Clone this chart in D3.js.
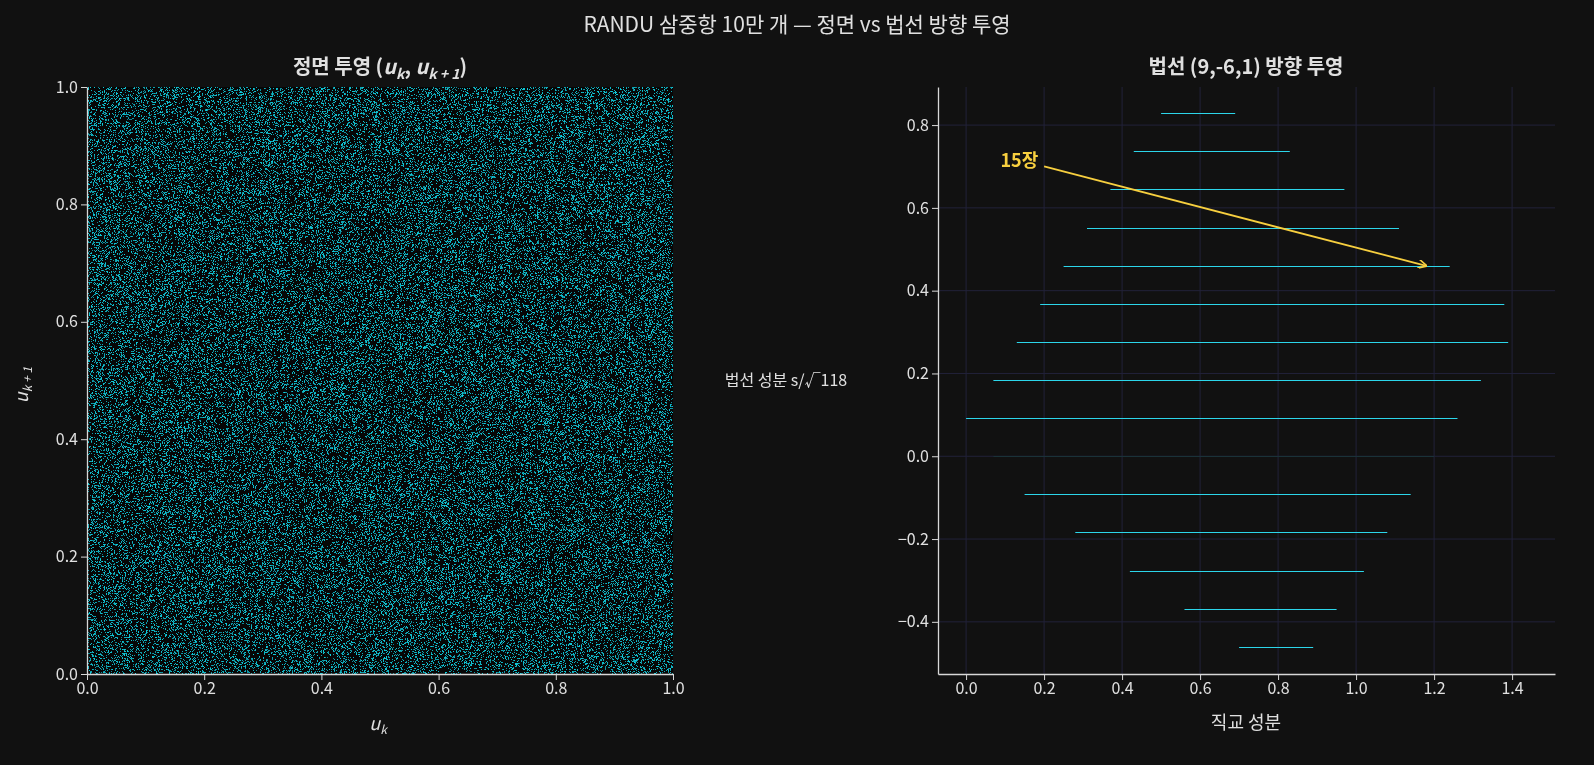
<!DOCTYPE html>
<html><head><meta charset="utf-8">
<script src="https://cdn.jsdelivr.net/npm/d3@7"></script>
<style>
body{margin:0;background:#111111;font-family:"Noto Sans CJK KR","Noto Sans",sans-serif;}
#wrap{position:relative;width:1594px;height:765px;}
canvas,svg{position:absolute;left:0;top:0;}
</style></head>
<body><div id="wrap"><canvas id="cv" width="1594" height="765"></canvas><svg id="sv" width="1594" height="765"></svg></div>
<script>
// RANDU generator: x_{k+1} = 65539 * x_k mod 2^31
var randuSeed = 1;
var randuMult = 65539;
var nPoints = 100000;

// planes seen along normal (9,-6,1): level index s, and in-plane extent of each slab
var planeS    = [-5, -4, -3, -2, -1, 0, 1, 2, 3, 4, 5, 6, 7, 8, 9];
var planeXmin = [0.70, 0.56, 0.42, 0.28, 0.15, 0.07, 0.00, 0.07, 0.13, 0.19, 0.25, 0.31, 0.37, 0.43, 0.50];
var planeXmax = [0.89, 0.95, 1.02, 1.08, 1.14, 1.20, 1.26, 1.32, 1.39, 1.38, 1.24, 1.11, 0.97, 0.83, 0.69];
var ticksLeft = [0, 0.2, 0.4, 0.6, 0.8, 1.0];
var ticksRightX = [0, 0.2, 0.4, 0.6, 0.8, 1.0, 1.2, 1.4];
var ticksRightY = [-0.4, -0.2, 0, 0.2, 0.4, 0.6, 0.8];

function randu(n) {
  var out = [], x = randuSeed;
  for (var i = 0; i < n + 1; i++) {
    x = Number((BigInt(x) * BigInt(randuMult)) % 2147483648n);
    out.push(x / 2147483648);
  }
  return out;
}

var svg = d3.select("#sv");
var ctx = document.getElementById("cv").getContext("2d");
var txt = "#e0e0e0", grid = "#22223a";
var font = "'Noto Sans CJK KR','Noto Sans',sans-serif";

svg.append("text").attr("x", 797).attr("y", 32).attr("text-anchor", "middle")
  .attr("fill", txt).attr("font-size", 21).text("RANDU 삼중항 10만 개 — 정면 vs 법선 방향 투영");

// ---- left panel
var xL = d3.scaleLinear().domain([0, 1]).range([87, 673]);
var yL = d3.scaleLinear().domain([0, 1]).range([674, 87]);
ctx.fillStyle = "#060606";
ctx.fillRect(87, 87, 586, 587);
var u = randu(nPoints);
for (var i = 0; i < nPoints; i++) {
  var c = 120 + ((i * 37) % 80);
  ctx.fillStyle = "rgb(15," + (c + 10) + "," + (c + 25) + ")";
  ctx.fillRect(Math.floor(xL(u[i])), Math.floor(yL(u[i + 1])), 1, 1);
}
var gL = svg.append("g");
gL.append("g").attr("transform", "translate(0,674)")
  .call(d3.axisBottom(xL).tickValues(ticksLeft).tickFormat(d3.format(".1f")).tickSizeOuter(0));
gL.append("g").attr("transform", "translate(87,0)")
  .call(d3.axisLeft(yL).tickValues(ticksLeft).tickFormat(d3.format(".1f")).tickSizeOuter(0));
gL.append("text").attr("x", 380).attr("y", 74).attr("text-anchor", "middle").attr("fill", txt)
  .attr("font-size", 20).attr("font-weight", "bold")
  .html('정면 투영 (<tspan font-style="italic">u</tspan><tspan font-size="14" dy="5" font-style="italic">k</tspan><tspan dy="-5">, </tspan><tspan font-style="italic">u</tspan><tspan font-size="14" dy="5" font-style="italic">k + 1</tspan><tspan dy="-5">)</tspan>');
gL.append("text").attr("x", 378).attr("y", 730).attr("text-anchor", "middle").attr("fill", txt)
  .attr("font-size", 18).html('<tspan font-style="italic">u</tspan><tspan font-size="12" dy="4" font-style="italic">k</tspan>');
gL.append("text").attr("transform", "translate(28,385) rotate(-90)").attr("text-anchor", "middle").attr("fill", txt)
  .attr("font-size", 18).html('<tspan font-style="italic">u</tspan><tspan font-size="12" dy="4" font-style="italic">k + 1</tspan>');

// ---- right panel
var xR = d3.scaleLinear().domain([-0.072, 1.51]).range([938, 1555]);
var yR = d3.scaleLinear().domain([-0.526, 0.892]).range([674, 87]);
var gR = svg.append("g");
gR.selectAll(".gx").data(ticksRightX).enter().append("line")
  .attr("x1", d => xR(d)).attr("x2", d => xR(d)).attr("y1", 87).attr("y2", 674).attr("stroke", grid);
gR.selectAll(".gy").data(ticksRightY).enter().append("line")
  .attr("y1", d => yR(d)).attr("y2", d => yR(d)).attr("x1", 938).attr("x2", 1555).attr("stroke", grid);
var sq = Math.sqrt(118);
gR.selectAll(".pl").data(planeS).enter().append("line")
  .attr("x1", (d, i) => xR(planeXmin[i])).attr("x2", (d, i) => xR(planeXmax[i]))
  .attr("y1", d => Math.round(yR(d / sq)) + 0.5).attr("y2", d => Math.round(yR(d / sq)) + 0.5)
  .attr("stroke", d => d === 0 ? "#1a3238" : "#2cd6ea").attr("stroke-width", 1);
gR.append("g").attr("transform", "translate(0,674)")
  .call(d3.axisBottom(xR).tickValues(ticksRightX).tickFormat(d3.format(".1f")).tickSizeOuter(0));
gR.append("g").attr("transform", "translate(938,0)")
  .call(d3.axisLeft(yR).tickValues(ticksRightY).tickFormat(d3.format(".1f")).tickSizeOuter(0));
gR.append("text").attr("x", 1246).attr("y", 74).attr("text-anchor", "middle").attr("fill", txt)
  .attr("font-size", 20).attr("font-weight", "bold").text("법선 (9,-6,1) 방향 투영");
gR.append("text").attr("x", 1246).attr("y", 729).attr("text-anchor", "middle").attr("fill", txt)
  .attr("font-size", 18).text("직교 성분");
gR.append("text").attr("x", 786).attr("y", 386).attr("text-anchor", "middle").attr("fill", txt)
  .attr("font-size", 16).text("법선 성분 s/√118");

var yel = "#f7cf3f";
svg.append("defs").append("marker").attr("id", "ar").attr("viewBox", "0 0 10 10")
  .attr("refX", 9).attr("refY", 5).attr("markerWidth", 9).attr("markerHeight", 9)
  .attr("orient", "auto").attr("markerUnits", "userSpaceOnUse")
  .append("path").attr("d", "M0,0L10,5L0,10").attr("fill", "none").attr("stroke", yel).attr("stroke-width", 1.8);
gR.append("line").attr("x1", xR(0.2)).attr("y1", yR(0.70)).attr("x2", xR(1.18)).attr("y2", yR(0.46))
  .attr("stroke", yel).attr("stroke-width", 1.8).attr("marker-end", "url(#ar)");
gR.append("text").attr("x", xR(0.185)).attr("y", yR(0.70) + 1).attr("text-anchor", "end").attr("fill", yel)
  .attr("font-size", 18).attr("font-weight", "bold").text("15장");

svg.selectAll(".domain").attr("stroke", "#d8d8d8").attr("stroke-width", 1.3);
svg.selectAll(".tick line").attr("stroke", "#d8d8d8");
svg.selectAll(".tick text").attr("fill", txt).attr("font-size", 16).attr("font-family", font);
</script></body></html>
